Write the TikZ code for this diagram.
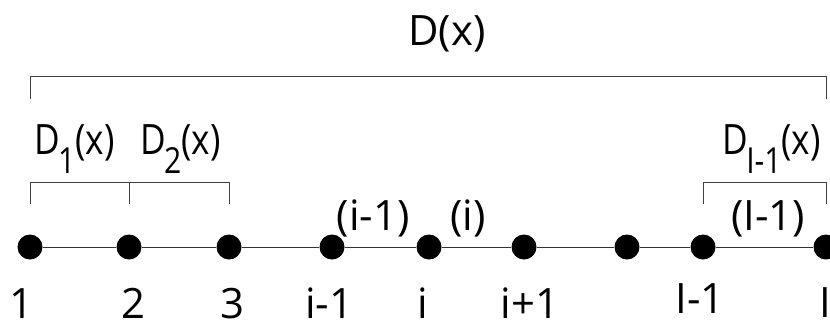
\documentclass[tikz,border=0pt]{standalone}
\usepackage{fontspec}
\setmainfont{Open Sans}
% D with a lowered index, squeezed a little as in the drawing
\newcommand{\dlab}[1]{\scalebox{0.84}[1]{D\kern-2bp\raisebox{-19bp}{\fontsize{36}{42}\selectfont#1}(x)}}
\begin{document}
\begin{tikzpicture}[x=1bp, y=-1bp,
    dot/.style={circle, fill, inner sep=0pt, minimum size=25bp},
    lab/.style={font=\fontsize{42}{48}\selectfont, inner sep=0pt, anchor=base},
    seg/.style={draw=black!80, line width=1bp},
    brk/.style={draw=black!75, line width=1bp}]
  \useasboundingbox (0,0) rectangle (830,321);

  % points on the line
  \foreach \n/\px in {1/30, 2/129, 3/229, 4/332, 5/429, 6/524, 7/627, 8/703, 9/826}
    \node[dot] (p\n) at (\px,247) {};
  \foreach \a/\b in {1/2, 2/3, 3/4, 4/5, 5/6, 6/7, 7/8, 8/9}
    \draw[seg] (p\a) -- (p\b);

  % brackets
  \coordinate (top) at (0,76);
  \coordinate (low) at (0,182);
  \draw[brk] (p1 |- top) ++(0,23) -- (p1 |- top) -- (p9 |- top) -- ++(0,23);
  \draw[brk] (p1 |- low) ++(0,22) -- (p1 |- low) -- (p3 |- low) -- ++(0,22);
  \draw[brk] (p2 |- low) -- ++(0,22);
  \draw[brk] (p8 |- low) ++(0,22) -- (p8 |- low) -- (p9 |- low) -- ++(0,22);

  % labels of the brackets
  \node[lab] (dx) at (447,45) {D(x)};
  \node[lab, anchor=base west] (d1) at (34,154) {\dlab{1}};
  \node[lab, anchor=base west] (d2) at (140,154) {\dlab{2}};
  \node[lab, anchor=base east] (dl) at (821,154) {\dlab{I-1}};

  % labels of the intervals
  \node[lab] (q4) at (373,230) {(i-1)};
  \node[lab] (q5) at (468,230) {(i)};
  \node[lab] (q8) at (768,230) {(I-1)};

  % labels of the points
  \foreach \n/\px/\py/\t in {1/21/318/1, 2/133/318/2, 3/232/318/3, 4/329/318/i-1,
      5/423/318/i, 6/530/318/i+1, 8/700/313/I-1, 9/825/317/I}
    \node[lab] (n\n) at (\px,\py) {\t};
\end{tikzpicture}
\end{document}
